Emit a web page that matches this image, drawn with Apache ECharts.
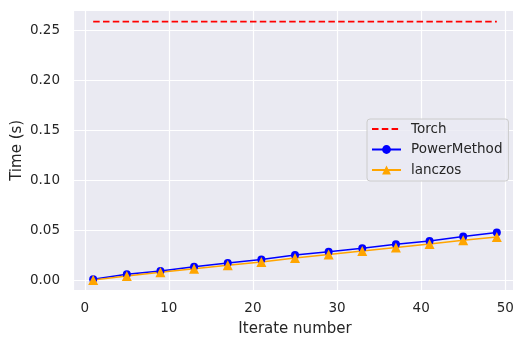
<!DOCTYPE html>
<html>
<head>
<meta charset="utf-8">
<script src="https://cdn.jsdelivr.net/npm/echarts@6/dist/echarts.min.js"></script>
<style>
  html, body { margin: 0; padding: 0; background: #ffffff; }
  #chart { width: 513px; height: 340px; }
</style>
</head>
<body>
<div id="chart"></div>
<script>
// Iteration counts on the x axis
const iterations = [1, 5, 9, 13, 17, 21, 25, 29, 33, 37, 41, 45, 49];
// Run times in seconds
const torchTimes = [0.2587, 0.2587, 0.2587, 0.2587, 0.2587, 0.2587, 0.2587, 0.2587, 0.2587, 0.2587, 0.2587, 0.2587, 0.2587];
const powerMethodTimes = [0.0012, 0.0062, 0.0095, 0.0137, 0.0175, 0.0210, 0.0255, 0.0288, 0.0322, 0.0362, 0.0395, 0.0440, 0.0480];
const lanczosTimes = [0.0005, 0.0045, 0.0083, 0.0118, 0.0153, 0.0185, 0.0225, 0.0260, 0.0295, 0.0330, 0.0365, 0.0402, 0.0435];
const seriesNames = ['Torch', 'PowerMethod', 'lanczos'];

const pairs = (ys) => iterations.map((x, i) => [x, ys[i]]);

const textColor = '#262626';
const font = 'DejaVu Sans';

const chart = echarts.init(document.getElementById('chart'), null, { renderer: 'canvas' });
chart.setOption({
  backgroundColor: '#ffffff',
  animation: false,
  grid: {
    left: 73, top: 10, width: 444, height: 280.7,
    backgroundColor: '#EAEAF2', show: true, borderWidth: 0,
    containLabel: false, outerBoundsMode: 'none'
  },
  xAxis: {
    type: 'value',
    min: -1.4, max: 51.4,
    splitNumber: 5,
    name: 'Iterate number',
    nameLocation: 'middle',
    nameGap: 31,
    nameMoveOverlap: false,
    nameTextStyle: { color: textColor, fontFamily: font, fontSize: 15 },
    axisLine: { show: false },
    axisTick: { show: false },
    axisLabel: {
      color: textColor, fontFamily: font, fontSize: 13.5, margin: 11,
      showMinLabel: false, showMaxLabel: false
    },
    splitLine: { show: true, lineStyle: { color: '#ffffff', width: 1.2 } }
  },
  yAxis: {
    type: 'value',
    min: -0.0102, max: 0.2703,
    splitNumber: 5,
    name: 'Time (s)',
    nameLocation: 'middle',
    nameGap: 48.5,
    nameMoveOverlap: false,
    nameTextStyle: { color: textColor, fontFamily: font, fontSize: 15 },
    axisLine: { show: false },
    axisTick: { show: false },
    axisLabel: {
      color: textColor, fontFamily: font, fontSize: 13.5, margin: 13,
      showMinLabel: false, showMaxLabel: false,
      formatter: (v) => v.toFixed(2)
    },
    splitLine: { show: true, lineStyle: { color: '#ffffff', width: 1.2 } }
  },
  legend: {
    orient: 'vertical',
    left: 367, top: 119,
    data: [
      { name: seriesNames[0], itemStyle: { opacity: 0 } },
      { name: seriesNames[1] },
      { name: seriesNames[2] }
    ],
    itemWidth: 29, itemHeight: 11, itemGap: 4.5,
    padding: [2, 6, 3, 4],
    backgroundColor: 'rgba(234,234,242,0.8)',
    borderColor: '#cccccc', borderWidth: 1, borderRadius: 3,
    textStyle: { color: textColor, fontFamily: font, fontSize: 13.5, lineHeight: 16, padding: [0, 0, 0, 5] }
  },
  series: [
    {
      name: seriesNames[0], type: 'line', data: pairs(torchTimes),
      symbol: 'none', color: '#ff0000',
      lineStyle: { color: '#ff0000', width: 1.9, type: [6.5, 3.3] }
    },
    {
      name: seriesNames[1], type: 'line', data: pairs(powerMethodTimes),
      symbol: 'circle', symbolSize: 8, color: '#0000ff',
      itemStyle: { color: '#0000ff' },
      lineStyle: { color: '#0000ff', width: 1.6 }
    },
    {
      name: seriesNames[2], type: 'line', data: pairs(lanczosTimes),
      symbol: 'triangle', symbolSize: 10, color: '#ffa500',
      itemStyle: { color: '#ffa500' },
      lineStyle: { color: '#ffa500', width: 1.6 }
    }
  ]
});
</script>
</body>
</html>
